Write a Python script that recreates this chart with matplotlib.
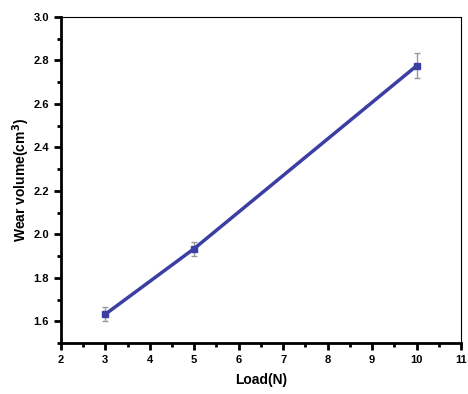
import matplotlib
matplotlib.use("Agg")
import matplotlib.pyplot as plt
from matplotlib.ticker import MultipleLocator

load = [3, 5, 10]
wear = [1.633, 1.935, 2.775]
err = [0.032, 0.032, 0.058]

plt.rcParams['font.family'] = ['Liberation Sans', 'DejaVu Sans']
fig = plt.figure(figsize=(4.68, 3.94), dpi=100)
ax = fig.add_axes([0.130, 0.129, 0.855, 0.828])
ax.errorbar(load, wear, yerr=err, color='#3b3fa3', lw=2.5, marker='s', ms=5,
            ecolor='#999999', elinewidth=1, capsize=2.5, capthick=1)
ax.set_xlim(2, 11)
ax.set_ylim(1.5, 3.0)
ax.xaxis.set_major_locator(MultipleLocator(1))
ax.xaxis.set_minor_locator(MultipleLocator(0.5))
ax.set_yticks([1.6, 1.8, 2.0, 2.2, 2.4, 2.6, 2.8, 3.0])
ax.yaxis.set_minor_locator(MultipleLocator(0.1))
ax.spines['left'].set_linewidth(2)
ax.spines['bottom'].set_linewidth(2)
ax.spines['top'].set_linewidth(0.8)
ax.spines['right'].set_linewidth(0.8)
ax.tick_params(which='major', direction='out', length=5, width=2, labelsize=8)
ax.tick_params(which='minor', direction='out', length=3, width=2)
for lab in ax.get_xticklabels() + ax.get_yticklabels():
    lab.set_fontweight('bold')
ax.set_xlabel('Load(N)', fontsize=10, fontweight='bold', labelpad=6)
ax.set_ylabel('Wear volume(cm$^\\mathbf{3}$)', fontsize=10, fontweight='bold', labelpad=1)
fig.savefig('out.png', dpi=100)
